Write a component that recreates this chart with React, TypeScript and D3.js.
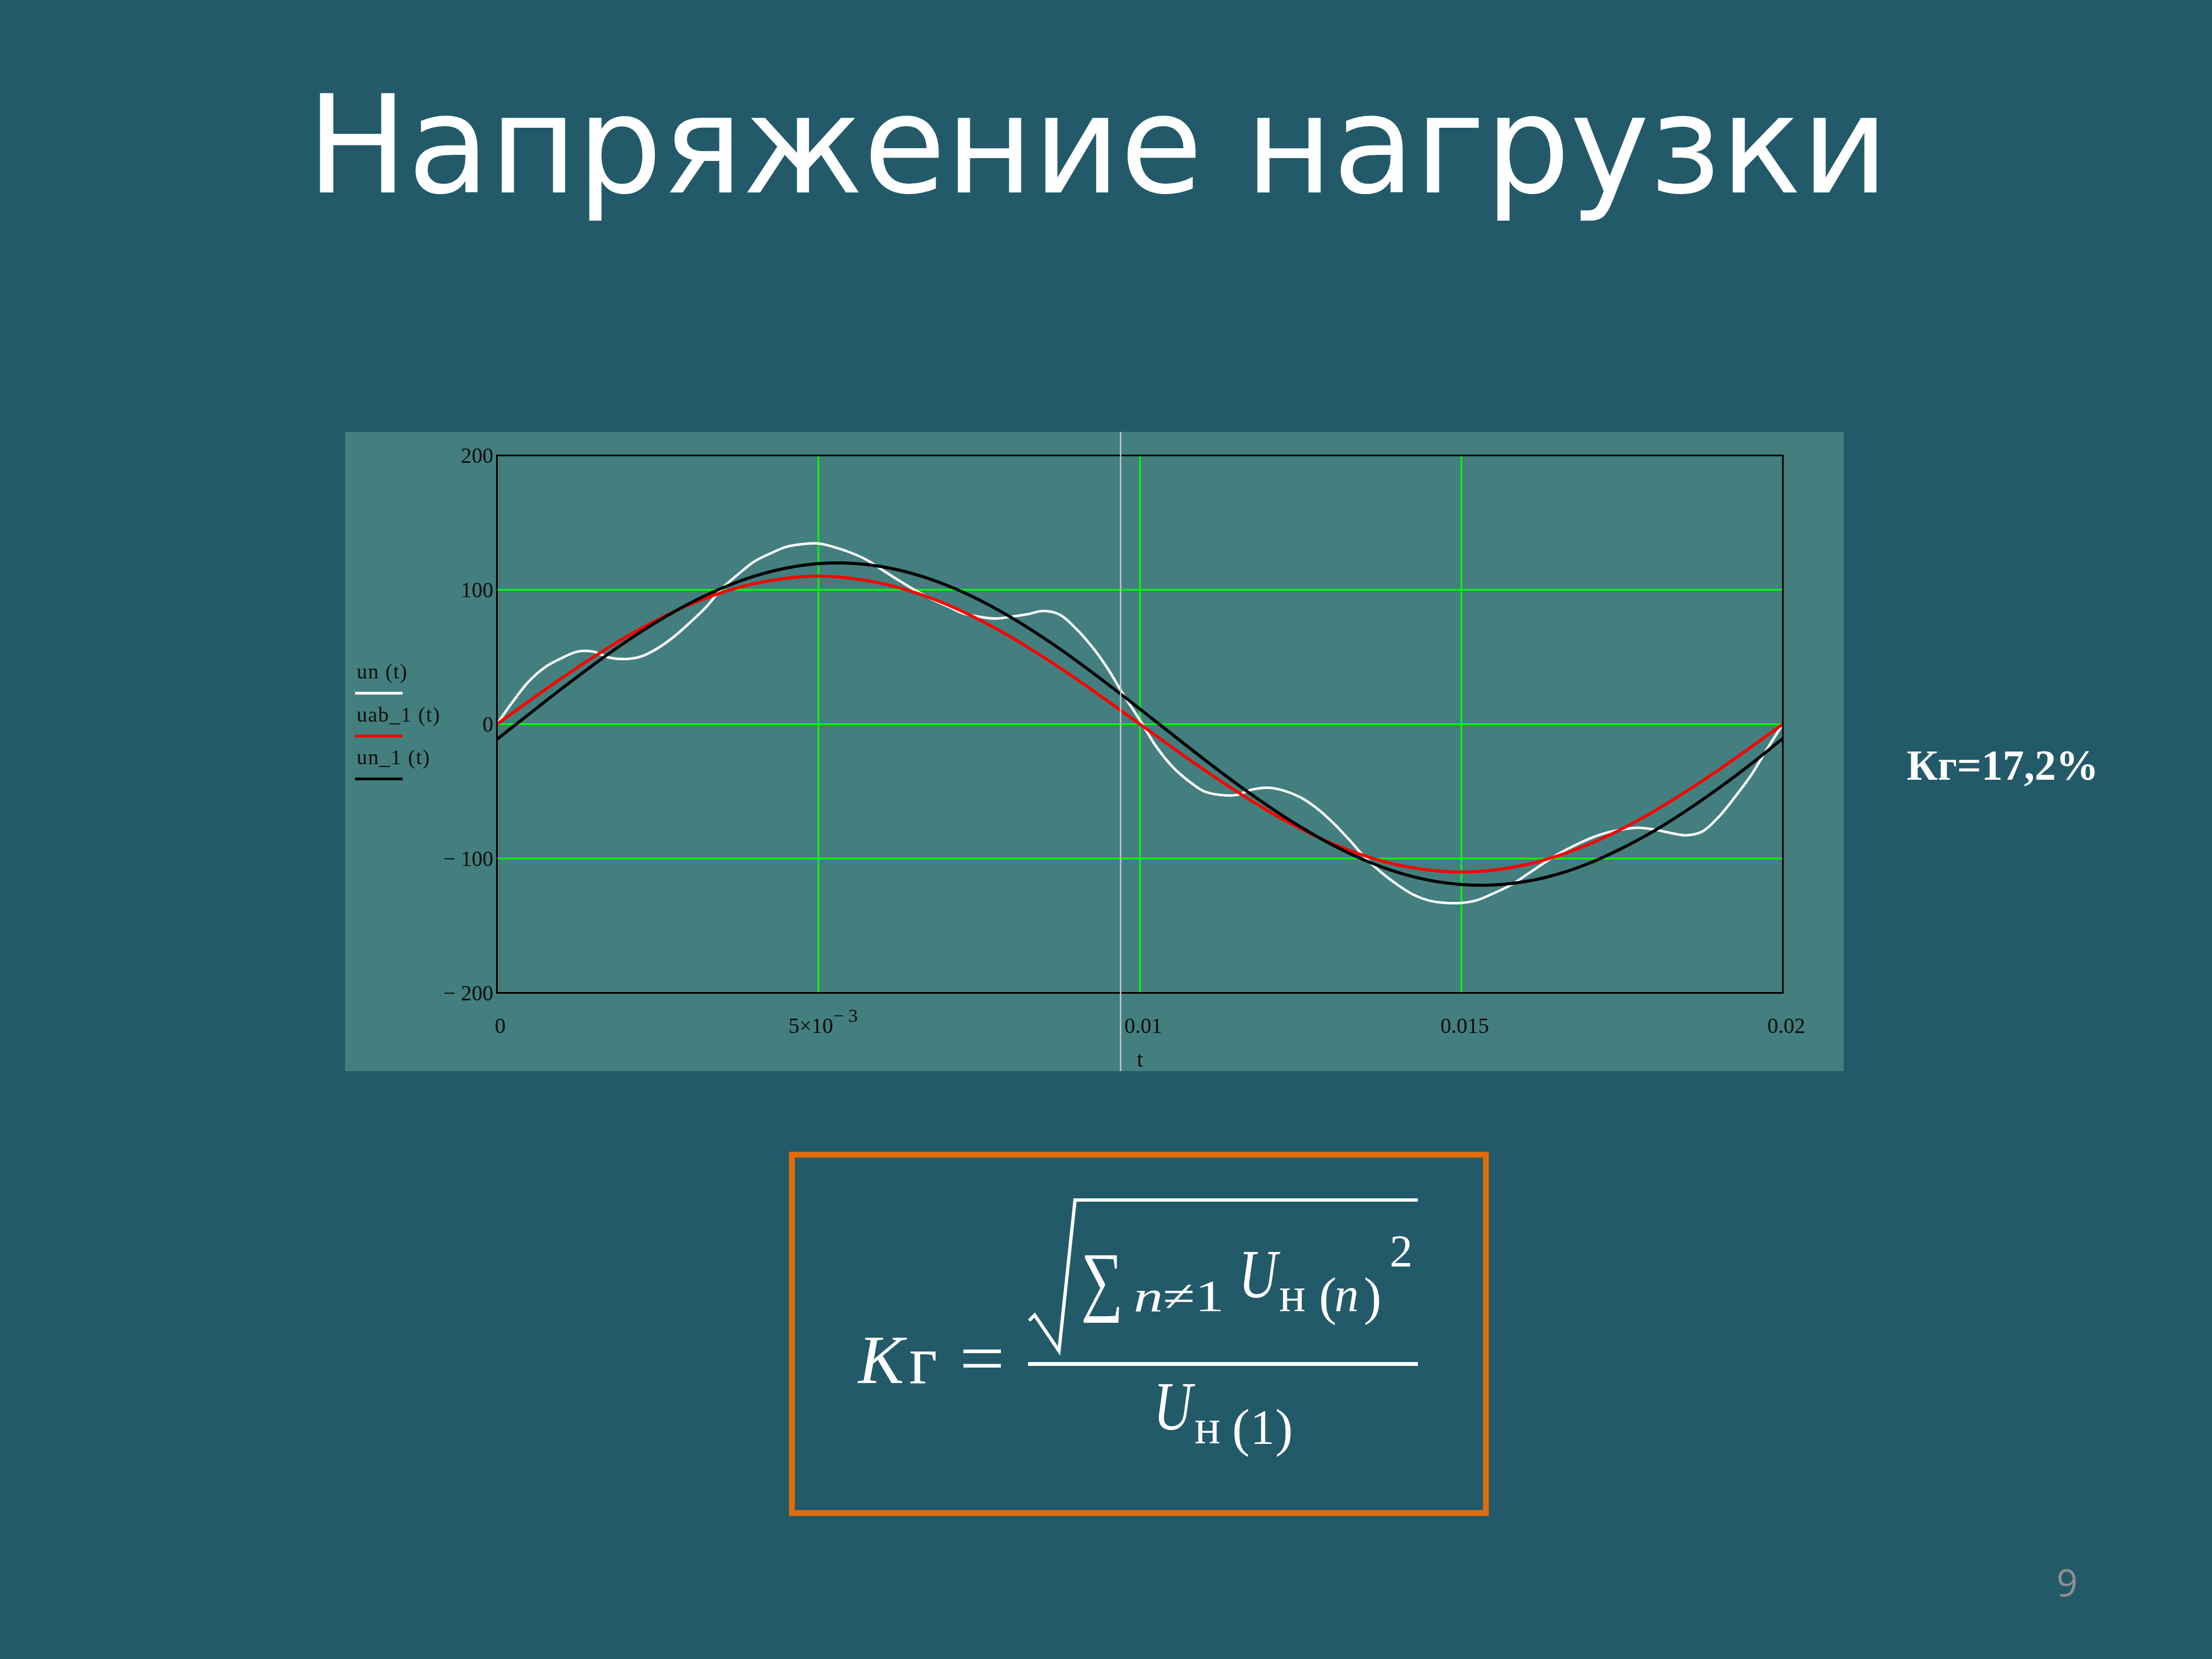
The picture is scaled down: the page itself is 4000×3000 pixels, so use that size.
import React from "react";
import * as d3 from "d3";

// time in milliseconds (axis shows seconds)
const tFine = [
  0, 0.25, 0.5, 0.75, 1, 1.25, 1.5, 1.75, 2, 2.25, 2.5, 2.75, 3, 3.25, 3.5, 3.75, 4, 4.25, 4.5, 4.75,
  5, 5.25, 5.5, 5.75, 6, 6.25, 6.5, 6.75, 7, 7.25, 7.5, 7.75, 8, 8.25, 8.5, 8.75, 9, 9.25, 9.5, 9.75,
  10, 10.25, 10.5, 10.75, 11, 11.25, 11.5, 11.75, 12, 12.25, 12.5, 12.75, 13, 13.25, 13.5, 13.75, 14, 14.25, 14.5, 14.75,
  15, 15.25, 15.5, 15.75, 16, 16.25, 16.5, 16.75, 17, 17.25, 17.5, 17.75, 18, 18.25, 18.5, 18.75, 19, 19.25, 19.5, 19.75,
  20,
];
const unValues = [
  0, 17, 32, 42.5, 49, 54, 54, 49.5, 48.5, 50.5, 56.5, 65, 75.5, 87, 101, 111.5, 121, 127, 132, 134,
  134.5, 131.7, 127.7, 122.3, 114.6, 107, 99.8, 93.4, 87.9, 82.5, 80, 78.6, 80, 81.8, 84.3, 81.6, 71.4, 58, 41.4, 21.4,
  3, -16.4, -31.3, -42, -50, -52.7, -52.7, -48.6, -47.3, -49.6, -54.5, -62.5, -73.2, -85.7, -99.1, -110.2, -119.3, -126.8, -131.3, -133,
  -133, -130.9, -125.9, -120.2, -112.5, -104.5, -96.8, -90.5, -85, -80.9, -78.4, -77, -78.4, -80.9, -82.7, -79.8, -69.1, -54.5, -38.4, -18.8,
  0,
];

const tCoarse = [
  0, 0.5, 1, 1.5, 2, 2.5, 3, 3.5, 4, 4.5, 5, 5.5, 6, 6.5, 7, 7.5, 8, 8.5, 9, 9.5,
  10, 10.5, 11, 11.5, 12, 12.5, 13, 13.5, 14, 14.5, 15, 15.5, 16, 16.5, 17, 17.5, 18, 18.5, 19, 19.5,
  20,
];
const uab1Values = [
  0, 17.2, 34, 49.9, 64.7, 77.8, 89, 98, 104.6, 108.6, 110.2, 108.6, 104.6, 98, 89, 77.8, 64.7, 49.9, 34, 17.2,
  0, -17.2, -34, -49.9, -64.7, -77.8, -89, -98, -104.6, -108.6, -110, -108.6, -104.6, -98, -89, -77.8, -64.7, -49.9, -34, -17.2,
  0,
];
const un1Values = [
  -11.3, 7.5, 26.2, 44.2, 61.1, 76.5, 90, 101.3, 110.1, 116.2, 119.5, 119.8, 117.1, 111.6, 103.3, 92.5, 79.4, 64.3, 47.7, 29.8,
  11.3, -7.5, -26.2, -44.2, -61.1, -76.5, -90, -101.3, -110.1, -116.2, -119.3, -119.6, -117.1, -111.6, -103.3, -92.3, -79.4, -64.3, -47.7, -29.8,
  -10.5,
];

const xTicks = [0, 5, 10, 15, 20];
const xTickLabels = ["0", "5×10", "0.01", "0.015", "0.02"];
const xTickSup = ["", "− 3", "", "", ""];
const yTicks = [200, 100, 0, -100, -200];
const yTickLabels = ["200", "100", "0", "− 100", "− 200"];
const cursorT = 9.7;

const seriesNames = ["un (t)", "uab_1 (t)", "un_1 (t)"];
const seriesColors = ["#ffffff", "#ff0000", "#000000"];

const BG = "#235a69";
const PANEL = "#437f7e";
const serif = "'Liberation Serif', 'Times New Roman', serif";

export default function App() {
  const plot = { left: 898.6, right: 3224, top: 823.6, bottom: 1795.5 };
  const panel = { x: 624, y: 781, w: 2710, h: 1156 };

  const x = d3.scaleLinear().domain([0, 20]).range([plot.left, plot.right]);
  const y = d3.scaleLinear().domain([-200, 200]).range([plot.bottom, plot.top]);

  const line = d3
    .line<[number, number]>()
    .x((d) => x(d[0]))
    .y((d) => y(d[1]))
    .curve(d3.curveCatmullRom.alpha(0.5));

  const series = [
    { pts: tFine.map((t, i) => [t, unValues[i]] as [number, number]), w: 4.5 },
    { pts: tCoarse.map((t, i) => [t, uab1Values[i]] as [number, number]), w: 5.5 },
    { pts: tCoarse.map((t, i) => [t, un1Values[i]] as [number, number]), w: 5.5 },
  ];

  return (
    <svg
      width={4000}
      height={3000}
      viewBox="0 0 4000 3000"
      style={{ position: "absolute", left: 0, top: 0, display: "block" }}
    >
      <rect x={0} y={0} width={4000} height={3000} fill={BG} />

      {/* title */}
      <text
        x={1985}
        y={348}
        textAnchor="middle"
        fontFamily="'DejaVu Sans', sans-serif"
        fontSize={246}
        fill="#ffffff"
        textLength={2860}
        lengthAdjust="spacingAndGlyphs"
      >
        Напряжение нагрузки
      </text>

      {/* chart panel */}
      <rect x={panel.x} y={panel.y} width={panel.w} height={panel.h} fill={PANEL} />

      {/* grid */}
      <g stroke="#00ff00" strokeWidth={3}>
        {xTicks.slice(1, -1).map((t) => (
          <line key={"gx" + t} x1={x(t)} x2={x(t)} y1={plot.top} y2={plot.bottom} />
        ))}
        {yTicks.slice(1, -1).map((v) => (
          <line key={"gy" + v} x1={plot.left} x2={plot.right} y1={y(v)} y2={y(v)} />
        ))}
      </g>

      {/* traces */}
      {series.map((s, i) => (
        <path
          key={seriesNames[i]}
          d={line(s.pts) || ""}
          fill="none"
          stroke={seriesColors[i]}
          strokeWidth={s.w}
          strokeLinejoin="round"
        />
      ))}

      {/* plot frame */}
      <rect
        x={plot.left}
        y={plot.top}
        width={plot.right - plot.left}
        height={plot.bottom - plot.top}
        fill="none"
        stroke="#000"
        strokeWidth={3}
      />

      {/* cursor */}
      <line
        x1={x(cursorT)}
        x2={x(cursorT)}
        y1={panel.y}
        y2={panel.y + panel.h}
        stroke="#c8c8c8"
        strokeWidth={2.5}
      />

      {/* tick labels */}
      <g fontFamily={serif} fontSize={39} fill="#0d0d0d">
        {yTicks.map((v, i) => (
          <text key={"yl" + v} x={892} y={y(v) + 13} textAnchor="end">
            {yTickLabels[i]}
          </text>
        ))}
        {xTicks.map((t, i) =>
          xTickSup[i] ? (
            <text key={"xl" + t} x={x(t) - 54} y={plot.bottom + 72}>
              {xTickLabels[i]}
              <tspan dy={-20} fontSize={34}>
                {xTickSup[i]}
              </tspan>
            </text>
          ) : (
            <text key={"xl" + t} x={x(t) + 6} y={plot.bottom + 72} textAnchor="middle">
              {xTickLabels[i]}
            </text>
          )
        )}
        <text x={(plot.left + plot.right) / 2} y={1929} textAnchor="middle">
          t
        </text>
      </g>

      {/* legend */}
      <g fontFamily={serif} fontSize={38} fill="#101010" letterSpacing={1.5}>
        {seriesNames.map((n, i) => (
          <g key={"lg" + n}>
            <text x={645} y={1227 + i * 77.5}>
              {n}
            </text>
            <line
              x1={642}
              x2={728}
              y1={1253.5 + i * 77.5}
              y2={1253.5 + i * 77.5}
              stroke={seriesColors[i]}
              strokeWidth={5}
            />
          </g>
        ))}
      </g>

      {/* THD value */}
      <text
        x={3448}
        y={1410}
        fontFamily={serif}
        fontWeight="bold"
        fontSize={78}
        fill="#ffffff"
        textLength={347}
        lengthAdjust="spacingAndGlyphs"
      >
        Кг=17,2%
      </text>

      {/* formula box */}
      <rect x={1432} y={2088} width={1255} height={648} fill="none" stroke="#e36c0a" strokeWidth={10.5} />
      <g fill="#ffffff" fontFamily={serif}>
        <text x={1552} y={2501} fontSize={124} fontStyle="italic">
          К
        </text>
        <text x={1644} y={2501} fontSize={124}>
          г
        </text>
        <text x={1735} y={2500} fontSize={130} textLength={82} lengthAdjust="spacingAndGlyphs">
          =
        </text>
        {/* fraction bar */}
        <line x1={1859} x2={2564} y1={2466.5} y2={2466.5} stroke="#fff" strokeWidth={7} />
        {/* radical */}
        <path
          d="M1861,2388 L1871,2378 L1915,2443 L1944,2170 L2564,2170"
          fill="none"
          stroke="#fff"
          strokeWidth={6}
          strokeLinejoin="miter"
        />
        <text x={1955} y={2362} fontSize={140} textLength={76} lengthAdjust="spacingAndGlyphs">
          ∑
        </text>
        <text x={2050} y={2371} fontSize={80} textLength={164} lengthAdjust="spacingAndGlyphs">
          <tspan fontStyle="italic">n</tspan>≠1
        </text>
        <text x={2240} y={2346} fontSize={124} fontStyle="italic" textLength={70} lengthAdjust="spacingAndGlyphs">
          U
        </text>
        <text x={2313} y={2371} fontSize={88} textLength={48} lengthAdjust="spacingAndGlyphs">
          н
        </text>
        <text x={2385} y={2376} fontSize={96}>
          (
        </text>
        <text x={2413} y={2371} fontSize={88} fontStyle="italic">
          n
        </text>
        <text x={2466} y={2376} fontSize={96}>
          )
        </text>
        <text x={2513} y={2290} fontSize={83}>
          2
        </text>
        {/* denominator */}
        <text x={2086} y={2585} fontSize={124} fontStyle="italic" textLength={70} lengthAdjust="spacingAndGlyphs">
          U
        </text>
        <text x={2160} y={2610} fontSize={88} textLength={47} lengthAdjust="spacingAndGlyphs">
          н
        </text>
        <text x={2228} y={2614} fontSize={96}>
          (
        </text>
        <text x={2261} y={2610} fontSize={88}>
          1
        </text>
        <text x={2306} y={2614} fontSize={96}>
          )
        </text>
      </g>

      {/* slide number */}
      <text
        x={3738}
        y={2887}
        textAnchor="middle"
        fontFamily="'Open Sans', sans-serif"
        fontSize={67}
        fill="#8f8f8f"
      >
        9
      </text>
    </svg>
  );
}
